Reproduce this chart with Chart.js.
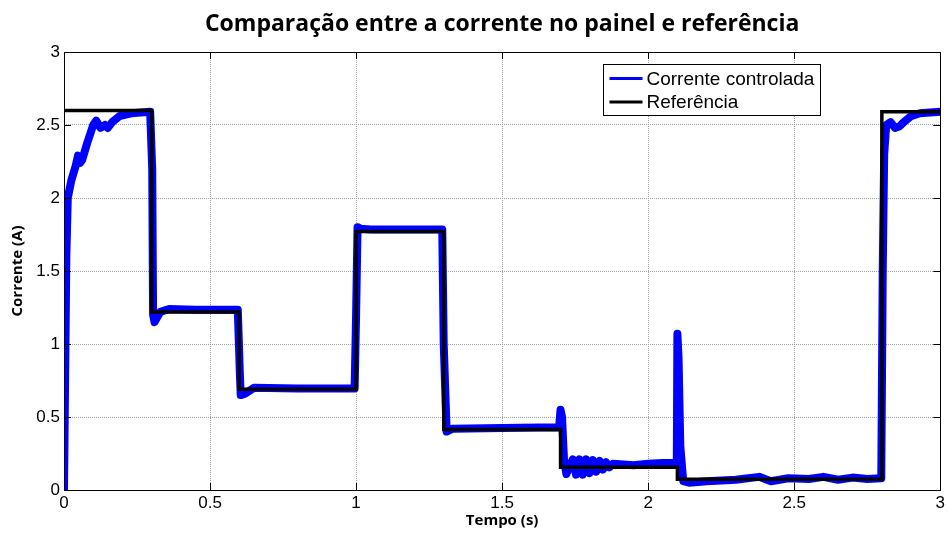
<!DOCTYPE html>
<html>
<head>
<meta charset="utf-8">
<script src="https://cdn.jsdelivr.net/npm/chart.js@4.4.1/dist/chart.umd.min.js"></script>
<style>
    html, body { margin: 0; padding: 0; background: #fff; }
    #wrap { width: 948px; height: 533px; }
</style>
</head>
<body>
<div id="wrap"><canvas id="correnteChart" width="948" height="533"></canvas></div>
<script>
// == DADOS ==
const tituloGrafico = 'Comparação entre a corrente no painel e referência';
const nomeEixoX = 'Tempo (s)';
const nomeEixoY = 'Corrente (A)';
const nomesSeries = ['Corrente controlada', 'Referência'];
const ticksEixo = [0, 0.5, 1, 1.5, 2, 2.5, 3];

// referência em degraus: início de cada degrau e seu nível
const refTempo = [0, 0.3, 0.6, 1.0, 1.3, 1.7, 2.1, 2.8, 3.0];
const refNivel = [2.6, 1.22, 0.69, 1.77, 0.415, 0.155, 0.073, 2.59, 2.59];

// corrente controlada
const correnteTempo = [
    0, 0.004, 0.008, 0.013, 0.025, 0.04, 0.048, 0.055, 0.062, 0.08, 0.1, 0.11, 0.125, 0.14, 0.15, 0.165, 0.19, 0.23, 0.295,
    0.302, 0.305, 0.31, 0.33, 0.36, 0.45, 0.595,
    0.602, 0.605, 0.62, 0.65, 0.8, 0.995,
    1.0, 1.005, 1.015, 1.05, 1.295,
    1.3, 1.31, 1.33, 1.5, 1.695,
    1.7, 1.705, 1.712, 1.72, 1.73, 1.742, 1.753, 1.765, 1.776, 1.788, 1.799, 1.811, 1.822, 1.834, 1.845, 1.856, 1.867, 1.88,
    1.95, 2.0, 2.05, 2.098,
    2.1, 2.104, 2.11, 2.12, 2.14, 2.2, 2.3, 2.38, 2.42, 2.48, 2.55, 2.6, 2.65, 2.7, 2.75, 2.798,
    2.803, 2.808, 2.815, 2.83, 2.845, 2.86, 2.875, 2.9, 2.93, 3.0
];
const correnteValor = [
    0, 0.8, 1.6, 2.0, 2.12, 2.22, 2.29, 2.24, 2.26, 2.38, 2.5, 2.53, 2.48, 2.5, 2.48, 2.52, 2.56, 2.58, 2.59,
    2.2, 1.2, 1.15, 1.22, 1.24, 1.235, 1.235,
    0.8, 0.65, 0.66, 0.7, 0.695, 0.695,
    1.2, 1.8, 1.79, 1.785, 1.785,
    1.0, 0.4, 0.42, 0.425, 0.43,
    0.55, 0.5, 0.2, 0.11, 0.16, 0.21, 0.105, 0.21, 0.105, 0.21, 0.115, 0.205, 0.125, 0.2, 0.14, 0.19, 0.155, 0.18,
    0.17, 0.18, 0.185, 0.185,
    1.07, 0.9, 0.3, 0.06, 0.05, 0.06, 0.07, 0.09, 0.06, 0.08, 0.075, 0.09, 0.07, 0.085, 0.075, 0.08,
    1.5, 2.3, 2.5, 2.52, 2.48, 2.49, 2.52, 2.56, 2.58, 2.59
];

const corAzul = '#0000ff';
const corPreta = '#000000';
const fonteTicks = 'Liberation Sans, Arial, sans-serif';
const fonteTitulo = '"Open Sans", Lato, sans-serif';

// == MOLDURA, TICKS INTERNOS E LEGENDA (estilo MATLAB) ==
const molduraPlugin = {
    id: 'moldura',
    afterDraw(chart) {
        const ctx = chart.ctx;
        const a = chart.chartArea;
        const sx = chart.scales.x, sy = chart.scales.y;
        ctx.save();
        ctx.strokeStyle = '#000';
        ctx.lineWidth = 1;
        ctx.beginPath();
        ticksEixo.forEach(v => {
            const px = Math.round(sx.getPixelForValue(v)) + 0.5;
            ctx.moveTo(px, a.bottom); ctx.lineTo(px, a.bottom - 7);
            ctx.moveTo(px, a.top); ctx.lineTo(px, a.top + 7);
            const py = Math.round(sy.getPixelForValue(v)) + 0.5;
            ctx.moveTo(a.left, py); ctx.lineTo(a.left + 7, py);
            ctx.moveTo(a.right, py); ctx.lineTo(a.right - 7, py);
        });
        ctx.stroke();
        ctx.strokeRect(Math.round(a.left) + 0.5, Math.round(a.top) + 0.5,
            Math.round(a.right - a.left), Math.round(a.bottom - a.top));

        // legenda
        const bx = Math.round(a.right) - 336.5, by = Math.round(a.top) + 12.5;
        const bw = 217, bh = 51;
        ctx.fillStyle = '#fff';
        ctx.fillRect(bx, by, bw, bh);
        ctx.strokeRect(bx, by, bw, bh);
        ctx.font = '19px ' + fonteTicks;
        ctx.textBaseline = 'middle';
        const cores = [corAzul, corPreta];
        nomesSeries.forEach((nome, i) => {
            const ly = by + 14 + i * 23.5;
            ctx.strokeStyle = cores[i];
            ctx.lineWidth = 3;
            ctx.beginPath();
            ctx.moveTo(bx + 6, ly); ctx.lineTo(bx + 39, ly);
            ctx.stroke();
            ctx.fillStyle = '#000';
            ctx.fillText(nome, bx + 43, ly + 1);
        });
        ctx.restore();
    }
};

const ctx = document.getElementById('correnteChart').getContext('2d');
const correnteChart = new Chart(ctx, {
    type: 'line',
    data: {
        datasets: [{
            label: nomesSeries[0],
            data: correnteTempo.map((t, i) => ({ x: t, y: correnteValor[i] })),
            borderColor: corAzul,
            borderWidth: 8,
            pointRadius: 0,
            tension: 0,
            borderJoinStyle: 'round',
            borderCapStyle: 'round',
            order: 2
        }, {
            label: nomesSeries[1],
            data: refTempo.map((t, i) => ({ x: t, y: refNivel[i] })),
            borderColor: corPreta,
            borderWidth: 3.5,
            pointRadius: 0,
            stepped: 'before', // horizontal primeiro, depois o degrau
            order: 1
        }]
    },
    options: {
        responsive: false,
        animation: false,
        layout: { padding: { left: 0, right: 5, top: 0, bottom: 0 } },
        plugins: {
            legend: { display: false },
            tooltip: { enabled: false },
            title: {
                display: true,
                fullSize: false, // centraliza sobre a área do gráfico
                text: tituloGrafico,
                color: '#000',
                font: { family: fonteTitulo, size: 23, weight: 'bold', lineHeight: 1.2 },
                padding: { top: 11, bottom: 13.4 }
            }
        },
        scales: {
            x: {
                type: 'linear',
                min: 0, max: 3,
                afterFit: s => { s.height = 43; },
                afterBuildTicks: s => { s.ticks = ticksEixo.map(v => ({ value: v })); },
                ticks: {
                    color: '#000',
                    padding: 3,
                    maxRotation: 0,
                    font: { family: fonteTicks, size: 17 },
                    callback: v => String(v)
                },
                grid: { color: '#a0a0a0', lineWidth: 1, drawTicks: false },
                border: { display: false, dash: [1, 1] },
                title: {
                    display: true,
                    text: nomeEixoX,
                    color: '#000',
                    font: { family: fonteTitulo, size: 15, weight: 'bold', lineHeight: 1.2 },
                    padding: { top: 0, bottom: 3 }
                }
            },
            y: {
                type: 'linear',
                min: 0, max: 3,
                afterFit: s => { s.width = 64; },
                afterBuildTicks: s => { s.ticks = ticksEixo.map(v => ({ value: v })); },
                ticks: {
                    color: '#000',
                    padding: 4,
                    font: { family: fonteTicks, size: 17 },
                    callback: v => String(v)
                },
                grid: { color: '#a0a0a0', lineWidth: 1, drawTicks: false },
                border: { display: false, dash: [1, 1] },
                title: {
                    display: true,
                    text: nomeEixoY,
                    color: '#000',
                    font: { family: fonteTitulo, size: 15, weight: 'bold', lineHeight: 1.2 },
                    padding: { top: 9, bottom: 0 }
                }
            }
        }
    },
    plugins: [molduraPlugin]
});
</script>
</body>
</html>
